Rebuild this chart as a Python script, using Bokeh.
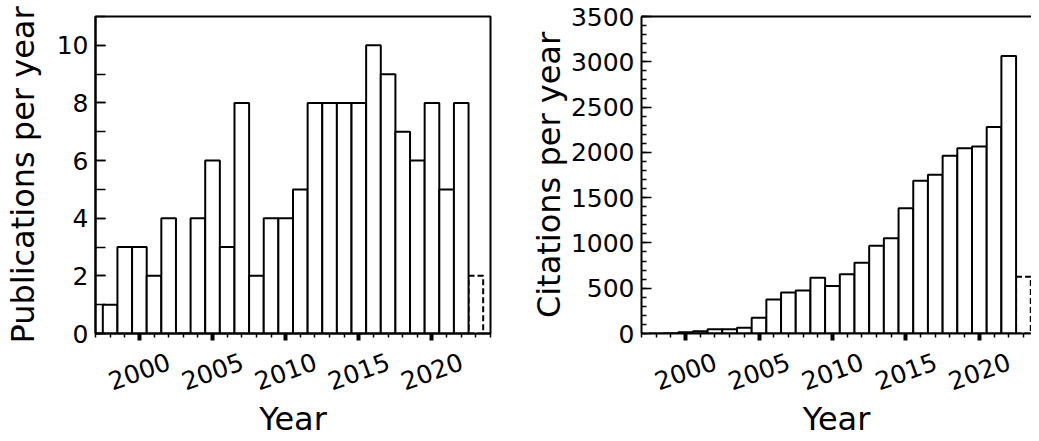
import math
from bokeh.plotting import figure
from bokeh.layouts import row
from bokeh.models import (SingleIntervalTicker, FixedTicker, Range1d, LinearAxis,
                          ColumnDataSource, CustomJSTickFormatter)
from bokeh.embed import file_html
from bokeh.resources import INLINE

# ---- data ----
years = list(range(1998, 2023))
publications = [1, 3, 3, 2, 4, 0, 4, 6, 3, 8, 2, 4, 4, 5, 8, 8, 8, 8, 10, 9, 7, 6, 8, 5, 8]
citations = [0, 2, 15, 26, 48, 48, 63, 173, 376, 454, 476, 616, 524, 653, 782, 970,
             1052, 1384, 1686, 1753, 1963, 2044, 2066, 2280, 3065]
partial_year = [2023]
partial_publications = [2]
partial_citations = [627]
tick_years = [2000, 2005, 2010, 2015, 2020]

FONT = "DejaVu Sans"
TICK_FS = "25px"
LABEL_FS = "32px"
# Bokeh anchors rotated axis labels at their right end; shift the label
# ticks so that each rotated label is centred on its year (matplotlib style)
LABEL_SHIFT = 2.04


def style_text(ax):
    ax.major_label_text_font = FONT
    ax.major_label_text_font_size = TICK_FS
    ax.major_label_text_color = "black"
    ax.axis_label_text_font = FONT
    ax.axis_label_text_font_size = LABEL_FS
    ax.axis_label_text_font_style = "normal"
    ax.axis_label_text_color = "black"


def style_axes(p, y_interval, y_minor, y_major_in, y_minor_in, ylabel, ylabel_standoff):
    xa = p.xaxis[0]
    xa.ticker = SingleIntervalTicker(interval=5, num_minor_ticks=5)
    xa.formatter = CustomJSTickFormatter(code="return ''")
    xa.major_tick_in = 0
    xa.major_tick_out = 7
    xa.major_tick_line_width = 4
    xa.minor_tick_in = 0
    xa.minor_tick_out = 4
    xa.minor_tick_line_width = 1.5
    xa.major_label_standoff = 0
    xa.axis_line_width = 2
    xa.axis_line_color = "black"
    xa.major_tick_line_color = "black"
    xa.minor_tick_line_color = "black"
    style_text(xa)

    # label-only axis carrying the rotated year labels and the "Year" title
    lab = LinearAxis(ticker=FixedTicker(ticks=[y + LABEL_SHIFT for y in tick_years], minor_ticks=[]),
                     formatter=CustomJSTickFormatter(
                         code="return String(Math.round(tick - %s))" % LABEL_SHIFT),
                     axis_line_color=None, major_tick_line_color=None, minor_tick_line_color=None,
                     major_tick_in=0, major_tick_out=0, minor_tick_in=0, minor_tick_out=0,
                     major_label_orientation=math.radians(20), major_label_standoff=20,
                     axis_label="Year", axis_label_standoff=-2)
    style_text(lab)
    p.add_layout(lab, "below")

    ya = p.yaxis[0]
    ya.ticker = SingleIntervalTicker(interval=y_interval, num_minor_ticks=y_minor)
    ya.major_tick_in = y_major_in
    ya.major_tick_out = 0
    ya.minor_tick_in = y_minor_in
    ya.minor_tick_out = 0
    ya.major_tick_line_width = 1.5
    ya.minor_tick_line_width = 1.5
    ya.major_label_standoff = 7
    ya.axis_label = ylabel
    ya.axis_label_standoff = ylabel_standoff
    ya.axis_line_width = 2
    ya.axis_line_color = "black"
    ya.major_tick_line_color = "black"
    ya.minor_tick_line_color = "black"
    style_text(ya)


def make_bars(p, xs, ys, pxs, pys):
    src_p = ColumnDataSource(dict(x=pxs, top=pys))
    p.vbar(x="x", top="top", bottom=0, width=1, source=src_p,
           fill_color="white", line_color="black", line_width=2, line_dash="6 3")
    src = ColumnDataSource(dict(x=xs, top=ys))
    p.vbar(x="x", top="top", bottom=0, width=1, source=src,
           fill_color="white", line_color="black", line_width=2)


H = 441
left = figure(width=512, height=H, output_backend="svg", toolbar_location=None,
              x_range=Range1d(1997, 2024), y_range=Range1d(0, 11),
              min_border_left=86, min_border_right=22, min_border_top=16, min_border_bottom=108)
left.grid.visible = False
left.outline_line_color = "black"
left.outline_line_width = 2
left.background_fill_color = "white"
left.border_fill_color = "white"
make_bars(left, years, publications, partial_year, partial_publications)
style_axes(left, 2, 2, 10, 10, "Publications per year", 12)

right = figure(width=519, height=H, output_backend="svg", toolbar_location=None,
               x_range=Range1d(1997, 2023.55), y_range=Range1d(0, 3500),
               min_border_left=129, min_border_right=0, min_border_top=16, min_border_bottom=108)
right.grid.visible = False
right.outline_line_color = None
right.background_fill_color = "white"
right.border_fill_color = "white"
make_bars(right, years, citations, partial_year, partial_citations)
style_axes(right, 500, 5, 10, 5, "Citations per year", 0)
top_axis = LinearAxis(ticker=FixedTicker(ticks=[]),
                      major_tick_line_color=None, minor_tick_line_color=None,
                      major_tick_in=0, major_tick_out=0, minor_tick_in=0, minor_tick_out=0,
                      major_label_standoff=0, axis_line_width=2, axis_line_color="black")
right.add_layout(top_axis, "above")

layout = row(left, right)
open("out.html", "w").write(file_html(layout, INLINE))
